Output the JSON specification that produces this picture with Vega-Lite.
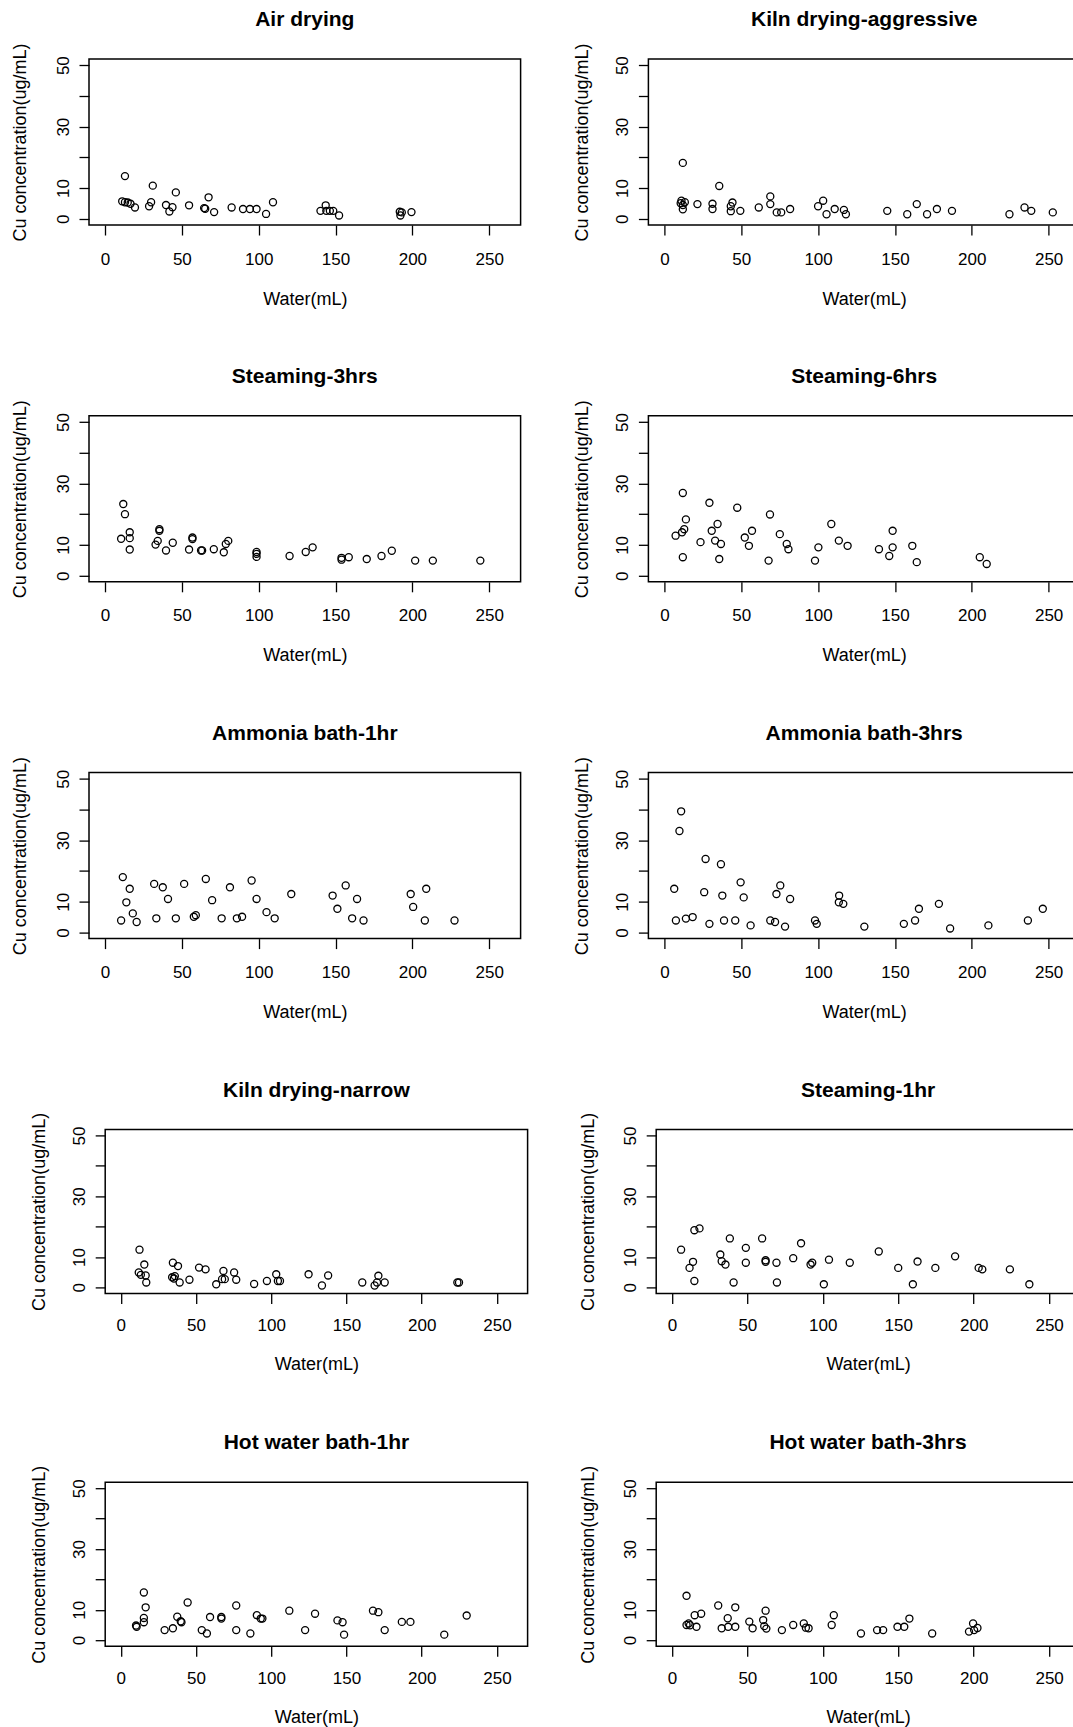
{
  "$schema": "https://vega.github.io/schema/vega-lite/v6.json",
  "padding": {"left": 10, "top": 8, "right": 0, "bottom": 0},
  "background": "white",
  "datasets": {
    "air": [{"water":13,"cu":13.9},{"water":11.2,"cu":5.7},{"water":13,"cu":5.4},{"water":14.8,"cu":5.3},{"water":16.6,"cu":4.9},{"water":19.5,"cu":3.7},{"water":28.7,"cu":4.1},{"water":30,"cu":5.4},{"water":31.1,"cu":10.8},{"water":39.7,"cu":4.5},{"water":41.9,"cu":2.4},{"water":43.9,"cu":3.8},{"water":46.1,"cu":8.6},{"water":54.7,"cu":4.4},{"water":64.5,"cu":3.5},{"water":65.2,"cu":3.3},{"water":67.4,"cu":7.0},{"water":71,"cu":2.2},{"water":82.4,"cu":3.7},{"water":89.8,"cu":3.2},{"water":94.3,"cu":3.2},{"water":98.6,"cu":3.2},{"water":104.8,"cu":1.6},{"water":109.3,"cu":5.4},{"water":140.2,"cu":2.6},{"water":143.6,"cu":4.4},{"water":144,"cu":2.6},{"water":146.3,"cu":2.6},{"water":148.5,"cu":2.6},{"water":152.3,"cu":1.1},{"water":191.8,"cu":2.3},{"water":192.2,"cu":1.1},{"water":193.1,"cu":2.1},{"water":199.4,"cu":2.2}],
    "kilnA": [{"water":12,"cu":18.2},{"water":11.1,"cu":5.9},{"water":10.6,"cu":5.1},{"water":12,"cu":4.5},{"water":13.3,"cu":5.4},{"water":12,"cu":3.1},{"water":21.5,"cu":4.8},{"water":31.3,"cu":4.9},{"water":31.3,"cu":3.2},{"water":35.7,"cu":10.7},{"water":43.2,"cu":4.1},{"water":44.3,"cu":5.3},{"water":43.2,"cu":2.5},{"water":49.4,"cu":2.6},{"water":61.4,"cu":3.7},{"water":68.9,"cu":7.3},{"water":68.9,"cu":4.8},{"water":73.1,"cu":2.1},{"water":76,"cu":2.1},{"water":81.8,"cu":3.2},{"water":100,"cu":4.1},{"water":103.3,"cu":5.9},{"water":105.5,"cu":1.5},{"water":110.8,"cu":3.2},{"water":116.8,"cu":2.9},{"water":118.1,"cu":1.5},{"water":145,"cu":2.6},{"water":158,"cu":1.5},{"water":164.2,"cu":4.8},{"water":170.9,"cu":1.5},{"water":177.3,"cu":3.2},{"water":187.1,"cu":2.6},{"water":224.5,"cu":1.5},{"water":234.3,"cu":3.7},{"water":238.7,"cu":2.6},{"water":252.7,"cu":2.1}],
    "st3": [{"water":11.9,"cu":23.3},{"water":13,"cu":20},{"water":10.5,"cu":12},{"water":16.1,"cu":14.1},{"water":16.1,"cu":12.2},{"water":16.1,"cu":8.5},{"water":32.9,"cu":10.1},{"water":34.3,"cu":11.3},{"water":35.4,"cu":15.1},{"water":35.4,"cu":14.6},{"water":39.7,"cu":8.2},{"water":44.1,"cu":10.7},{"water":54.7,"cu":8.5},{"water":56.9,"cu":12.4},{"water":56.9,"cu":11.9},{"water":62.5,"cu":8.2},{"water":63.2,"cu":8.2},{"water":70.8,"cu":8.6},{"water":77.3,"cu":7.6},{"water":78.6,"cu":10.3},{"water":80.2,"cu":11.3},{"water":98.6,"cu":7.7},{"water":98.6,"cu":7.1},{"water":98.6,"cu":6.1},{"water":120.1,"cu":6.4},{"water":130.6,"cu":7.7},{"water":135.1,"cu":9.2},{"water":153.9,"cu":5.8},{"water":153.9,"cu":5.2},{"water":158.6,"cu":6.0},{"water":170.3,"cu":5.4},{"water":179.9,"cu":6.4},{"water":186.6,"cu":8.1},{"water":201.8,"cu":4.9},{"water":213.3,"cu":4.9},{"water":244.2,"cu":4.9}],
    "st6": [{"water":12,"cu":26.9},{"water":29.3,"cu":23.7},{"water":47.4,"cu":22.1},{"water":68.7,"cu":19.9},{"water":14,"cu":18.3},{"water":34.6,"cu":16.8},{"water":108.6,"cu":16.8},{"water":12.9,"cu":15.1},{"water":11.5,"cu":14.1},{"water":30.8,"cu":14.6},{"water":57,"cu":14.6},{"water":148.5,"cu":14.6},{"water":7.3,"cu":13},{"water":75.1,"cu":13.5},{"water":52.3,"cu":12.4},{"water":33,"cu":11.4},{"water":23.5,"cu":10.9},{"water":36.8,"cu":10.3},{"water":113.5,"cu":11.4},{"water":79.6,"cu":10.3},{"water":55,"cu":9.7},{"water":119.2,"cu":9.7},{"water":161.3,"cu":9.7},{"water":100.2,"cu":9.2},{"water":80.7,"cu":8.6},{"water":139.6,"cu":8.6},{"water":148.5,"cu":9.2},{"water":146.3,"cu":6.4},{"water":12,"cu":6},{"water":35.7,"cu":5.4},{"water":67.8,"cu":4.9},{"water":98,"cu":4.9},{"water":164.2,"cu":4.4},{"water":205.2,"cu":6},{"water":209.7,"cu":3.8}],
    "am1": [{"water":11.6,"cu":18},{"water":16.1,"cu":14.2},{"water":13.9,"cu":9.8},{"water":18.1,"cu":6.2},{"water":10.5,"cu":3.9},{"water":20.6,"cu":3.4},{"water":32,"cu":15.8},{"water":37.6,"cu":14.7},{"water":41,"cu":10.9},{"water":33.4,"cu":4.6},{"water":46.1,"cu":4.6},{"water":51.5,"cu":15.8},{"water":57.8,"cu":5.1},{"water":59.1,"cu":5.6},{"water":65.6,"cu":17.4},{"water":69.7,"cu":10.5},{"water":75.9,"cu":4.6},{"water":81.3,"cu":14.7},{"water":85.8,"cu":4.6},{"water":89.2,"cu":5.1},{"water":95.4,"cu":16.9},{"water":98.6,"cu":10.9},{"water":105.1,"cu":6.6},{"water":110.4,"cu":4.6},{"water":121.2,"cu":12.5},{"water":148.1,"cu":12},{"water":151.2,"cu":7.7},{"water":156.6,"cu":15.3},{"water":164,"cu":10.9},{"water":160.8,"cu":4.6},{"water":168.2,"cu":3.9},{"water":198.9,"cu":12.5},{"water":200.5,"cu":8.3},{"water":209,"cu":14.2},{"water":208.1,"cu":3.9},{"water":227.4,"cu":3.9}],
    "am3": [{"water":10.9,"cu":39.4},{"water":9.8,"cu":33},{"water":26.8,"cu":23.9},{"water":36.8,"cu":22.2},{"water":6.4,"cu":14.2},{"water":25.9,"cu":13.1},{"water":37.7,"cu":12},{"water":49.6,"cu":16.3},{"water":51.6,"cu":11.4},{"water":75.4,"cu":15.3},{"water":72.9,"cu":12.5},{"water":81.8,"cu":10.9},{"water":113.7,"cu":12},{"water":113.5,"cu":9.8},{"water":116.4,"cu":9.3},{"water":7.5,"cu":3.9},{"water":14,"cu":4.5},{"water":18.4,"cu":5},{"water":29.3,"cu":2.8},{"water":38.8,"cu":3.9},{"water":46.1,"cu":3.9},{"water":56.1,"cu":2.3},{"water":68.9,"cu":3.9},{"water":72,"cu":3.4},{"water":78.5,"cu":1.9},{"water":98,"cu":3.9},{"water":99.1,"cu":2.8},{"water":130.1,"cu":1.9},{"water":155.8,"cu":2.8},{"water":163.1,"cu":3.9},{"water":165.6,"cu":7.7},{"water":178.6,"cu":9.3},{"water":185.9,"cu":1.3},{"water":210.8,"cu":2.3},{"water":236.5,"cu":3.9},{"water":246.2,"cu":7.7}],
    "kilnN": [{"water":12.4,"cu":12.4},{"water":11.9,"cu":4.9},{"water":13.3,"cu":4.1},{"water":15.6,"cu":7.5},{"water":16.5,"cu":3.9},{"water":16.9,"cu":1.6},{"water":34.6,"cu":8.1},{"water":38,"cu":7},{"water":34.1,"cu":3.3},{"water":35.3,"cu":2.9},{"water":35.9,"cu":3.7},{"water":39.1,"cu":1.6},{"water":45.6,"cu":2.5},{"water":52,"cu":6.5},{"water":56.3,"cu":5.9},{"water":63.4,"cu":1},{"water":68.2,"cu":5.4},{"water":67.3,"cu":2.7},{"water":69.1,"cu":2.7},{"water":75.3,"cu":4.9},{"water":76.7,"cu":2.5},{"water":88.6,"cu":1.1},{"water":97.1,"cu":2.1},{"water":103.3,"cu":4.3},{"water":104.4,"cu":2.1},{"water":105.8,"cu":2.1},{"water":124.8,"cu":4.3},{"water":133.7,"cu":0.6},{"water":137.8,"cu":3.9},{"water":160.5,"cu":1.6},{"water":168.7,"cu":0.6},{"water":170.3,"cu":1.6},{"water":171.2,"cu":3.8},{"water":175.4,"cu":1.6},{"water":223.7,"cu":1.6},{"water":224.8,"cu":1.6}],
    "st1": [{"water":6.1,"cu":12.4},{"water":14.9,"cu":18.8},{"water":18.3,"cu":19.4},{"water":14,"cu":8.4},{"water":11.7,"cu":6.4},{"water":14.9,"cu":2.1},{"water":32.1,"cu":10.8},{"water":33,"cu":8.6},{"water":35.5,"cu":7.5},{"water":38.4,"cu":16.1},{"water":40.9,"cu":1.6},{"water":49,"cu":13},{"water":49,"cu":8.1},{"water":59.8,"cu":16.1},{"water":62.1,"cu":8.9},{"water":62.1,"cu":8.4},{"water":69.3,"cu":8.1},{"water":69.6,"cu":1.6},{"water":80.4,"cu":9.6},{"water":85.6,"cu":14.5},{"water":91.9,"cu":7.5},{"water":93,"cu":8.1},{"water":100.7,"cu":1},{"water":104.1,"cu":9.1},{"water":117.9,"cu":8.1},{"water":137.1,"cu":11.8},{"water":150,"cu":6.4},{"water":159.7,"cu":1},{"water":162.8,"cu":8.5},{"water":174.6,"cu":6.4},{"water":187.7,"cu":10.2},{"water":203.3,"cu":6.4},{"water":205.7,"cu":5.9},{"water":224,"cu":5.9},{"water":236.9,"cu":1}],
    "hw1": [{"water":15.3,"cu":15.7},{"water":16.5,"cu":10.8},{"water":10.1,"cu":4.8},{"water":10.5,"cu":4.4},{"water":15.3,"cu":7.3},{"water":15.3,"cu":5.9},{"water":29.1,"cu":3.3},{"water":34.6,"cu":3.9},{"water":37.5,"cu":7.7},{"water":39.8,"cu":6.2},{"water":40.3,"cu":5.9},{"water":44.4,"cu":12.4},{"water":53.8,"cu":3.3},{"water":57.2,"cu":2.2},{"water":59.3,"cu":7.6},{"water":66.8,"cu":7.6},{"water":66.8,"cu":7.1},{"water":76.7,"cu":11.4},{"water":76.7,"cu":3.3},{"water":86.1,"cu":2.2},{"water":90.4,"cu":8.2},{"water":93,"cu":7.1},{"water":94.1,"cu":7.1},{"water":112,"cu":9.7},{"water":122.5,"cu":3.3},{"water":129.1,"cu":8.7},{"water":144,"cu":6.5},{"water":147.4,"cu":5.9},{"water":148.4,"cu":1.8},{"water":167.6,"cu":9.7},{"water":171.2,"cu":9.2},{"water":175.4,"cu":3.3},{"water":186.8,"cu":6},{"water":192.5,"cu":6},{"water":215,"cu":1.8},{"water":229.9,"cu":8.1}],
    "hw3": [{"water":9.7,"cu":14.6},{"water":9.7,"cu":5},{"water":11.1,"cu":5.5},{"water":12,"cu":4.9},{"water":15.1,"cu":8.2},{"water":16.3,"cu":4.4},{"water":19.4,"cu":8.7},{"water":30.7,"cu":11.4},{"water":33,"cu":3.9},{"water":37,"cu":7.2},{"water":37.3,"cu":4.4},{"water":42,"cu":10.8},{"water":42,"cu":4.4},{"water":51.3,"cu":6.1},{"water":53.5,"cu":3.9},{"water":60.5,"cu":6.6},{"water":62.1,"cu":9.7},{"water":61.2,"cu":4.6},{"water":62.6,"cu":3.8},{"water":72.9,"cu":3.3},{"water":80.4,"cu":5},{"water":87.4,"cu":5.5},{"water":88.8,"cu":4.1},{"water":90.6,"cu":3.9},{"water":105.9,"cu":5},{"water":107.3,"cu":8.2},{"water":125.3,"cu":2.2},{"water":136,"cu":3.3},{"water":140,"cu":3.3},{"water":149.5,"cu":4.4},{"water":154,"cu":4.4},{"water":157.4,"cu":7.1},{"water":172.5,"cu":2.2},{"water":196.9,"cu":2.8},{"water":199.6,"cu":5.5},{"water":200.3,"cu":3.3},{"water":202.5,"cu":4}]
  },
  "vconcat": [
    {"hconcat": [
      {"title": {"text": "Air drying", "offset": 13}, "width": 431.6, "height": 166, "data": {"name": "air"},
       "mark": {"type": "point", "shape": "circle", "filled": false, "color": "black", "strokeWidth": 1.3, "size": 50, "opacity": 1},
       "encoding": {
        "x": {"field": "water", "type": "quantitative", "scale": {"domain": [-10.4, 270.4], "nice": false, "zero": false}, "axis": {"title": "Water(mL)", "values": [0,50,100,150,200,250], "titleX": 215.8, "titleY": 74}},
        "y": {"field": "cu", "type": "quantitative", "scale": {"domain": [-2, 52], "nice": false, "zero": false}, "axis": {"title": "Cu concentration(ug/mL)", "values": [0,10,20,30,40,50], "labelExpr": "datum.value == 20 || datum.value == 40 ? '' : datum.label", "titleX": -69, "titleY": 83}}}},
      {"title": {"text": "Kiln drying-aggressive", "offset": 13}, "width": 431.6, "height": 166, "data": {"name": "kilnA"},
       "mark": {"type": "point", "shape": "circle", "filled": false, "color": "black", "strokeWidth": 1.3, "size": 50, "opacity": 1},
       "encoding": {
        "x": {"field": "water", "type": "quantitative", "scale": {"domain": [-10.4, 270.4], "nice": false, "zero": false}, "axis": {"title": "Water(mL)", "values": [0,50,100,150,200,250], "titleX": 215.8, "titleY": 74}},
        "y": {"field": "cu", "type": "quantitative", "scale": {"domain": [-2, 52], "nice": false, "zero": false}, "axis": {"title": "Cu concentration(ug/mL)", "values": [0,10,20,30,40,50], "labelExpr": "datum.value == 20 || datum.value == 40 ? '' : datum.label", "titleX": -66, "titleY": 83}}}}
    ], "spacing": 50.4},
    {"hconcat": [
      {"title": {"text": "Steaming-3hrs", "offset": 13}, "width": 431.6, "height": 166, "data": {"name": "st3"},
       "mark": {"type": "point", "shape": "circle", "filled": false, "color": "black", "strokeWidth": 1.3, "size": 50, "opacity": 1},
       "encoding": {
        "x": {"field": "water", "type": "quantitative", "scale": {"domain": [-10.4, 270.4], "nice": false, "zero": false}, "axis": {"title": "Water(mL)", "values": [0,50,100,150,200,250], "titleX": 215.8, "titleY": 74}},
        "y": {"field": "cu", "type": "quantitative", "scale": {"domain": [-2, 52], "nice": false, "zero": false}, "axis": {"title": "Cu concentration(ug/mL)", "values": [0,10,20,30,40,50], "labelExpr": "datum.value == 20 || datum.value == 40 ? '' : datum.label", "titleX": -69, "titleY": 83}}}},
      {"title": {"text": "Steaming-6hrs", "offset": 13}, "width": 431.6, "height": 166, "data": {"name": "st6"},
       "mark": {"type": "point", "shape": "circle", "filled": false, "color": "black", "strokeWidth": 1.3, "size": 50, "opacity": 1},
       "encoding": {
        "x": {"field": "water", "type": "quantitative", "scale": {"domain": [-10.4, 270.4], "nice": false, "zero": false}, "axis": {"title": "Water(mL)", "values": [0,50,100,150,200,250], "titleX": 215.8, "titleY": 74}},
        "y": {"field": "cu", "type": "quantitative", "scale": {"domain": [-2, 52], "nice": false, "zero": false}, "axis": {"title": "Cu concentration(ug/mL)", "values": [0,10,20,30,40,50], "labelExpr": "datum.value == 20 || datum.value == 40 ? '' : datum.label", "titleX": -66, "titleY": 83}}}}
    ], "spacing": 50.4},
    {"hconcat": [
      {"title": {"text": "Ammonia bath-1hr", "offset": 13}, "width": 431.6, "height": 166, "data": {"name": "am1"},
       "mark": {"type": "point", "shape": "circle", "filled": false, "color": "black", "strokeWidth": 1.3, "size": 50, "opacity": 1},
       "encoding": {
        "x": {"field": "water", "type": "quantitative", "scale": {"domain": [-10.4, 270.4], "nice": false, "zero": false}, "axis": {"title": "Water(mL)", "values": [0,50,100,150,200,250], "titleX": 215.8, "titleY": 74}},
        "y": {"field": "cu", "type": "quantitative", "scale": {"domain": [-2, 52], "nice": false, "zero": false}, "axis": {"title": "Cu concentration(ug/mL)", "values": [0,10,20,30,40,50], "labelExpr": "datum.value == 20 || datum.value == 40 ? '' : datum.label", "titleX": -69, "titleY": 83}}}},
      {"title": {"text": "Ammonia bath-3hrs", "offset": 13}, "width": 431.6, "height": 166, "data": {"name": "am3"},
       "mark": {"type": "point", "shape": "circle", "filled": false, "color": "black", "strokeWidth": 1.3, "size": 50, "opacity": 1},
       "encoding": {
        "x": {"field": "water", "type": "quantitative", "scale": {"domain": [-10.4, 270.4], "nice": false, "zero": false}, "axis": {"title": "Water(mL)", "values": [0,50,100,150,200,250], "titleX": 215.8, "titleY": 74}},
        "y": {"field": "cu", "type": "quantitative", "scale": {"domain": [-2, 52], "nice": false, "zero": false}, "axis": {"title": "Cu concentration(ug/mL)", "values": [0,10,20,30,40,50], "labelExpr": "datum.value == 20 || datum.value == 40 ? '' : datum.label", "titleX": -66, "titleY": 83}}}}
    ], "spacing": 50.4},
    {"concat": [
      {"width": 1, "height": 1, "data": {"values": []}, "mark": {"type": "point", "opacity": 0}, "encoding": {}, "view": {"stroke": null, "fill": "white"}},
      {"concat": [
        {"title": {"text": "Kiln drying-narrow", "offset": 11.7}, "width": 422.4, "height": 164, "data": {"name": "kilnN"},
         "mark": {"type": "point", "shape": "circle", "filled": false, "color": "black", "strokeWidth": 1.3, "size": 50, "opacity": 1},
         "encoding": {
          "x": {"field": "water", "type": "quantitative", "scale": {"domain": [-10.4, 270.4], "nice": false, "zero": false}, "axis": {"title": "Water(mL)", "values": [0,50,100,150,200,250], "labelPadding": 22, "titleX": 211.2, "titleY": 71.3}},
          "y": {"field": "cu", "type": "quantitative", "scale": {"domain": [-2, 52], "nice": false, "zero": false}, "axis": {"title": "Cu concentration(ug/mL)", "values": [0,10,20,30,40,50], "labelExpr": "datum.value == 20 || datum.value == 40 ? '' : datum.label", "titleX": -66, "titleY": 82}}}},
        {"title": {"text": "Steaming-1hr", "offset": 11.7}, "width": 423.7, "height": 164, "data": {"name": "st1"},
         "mark": {"type": "point", "shape": "circle", "filled": false, "color": "black", "strokeWidth": 1.3, "size": 50, "opacity": 1},
         "encoding": {
          "x": {"field": "water", "type": "quantitative", "scale": {"domain": [-10.4, 270.4], "nice": false, "zero": false}, "axis": {"title": "Water(mL)", "values": [0,50,100,150,200,250], "labelPadding": 22, "titleX": 211.85, "titleY": 71.3}},
          "y": {"field": "cu", "type": "quantitative", "scale": {"domain": [-2, 52], "nice": false, "zero": false}, "axis": {"title": "Cu concentration(ug/mL)", "values": [0,10,20,30,40,50], "labelExpr": "datum.value == 20 || datum.value == 40 ? '' : datum.label", "titleX": -68, "titleY": 82}}}}
      ], "columns": 2, "align": "none", "spacing": 49}
    ], "columns": 2, "align": "none", "spacing": -60.8},
    {"concat": [
      {"width": 1, "height": 1, "data": {"values": []}, "mark": {"type": "point", "opacity": 0}, "encoding": {}, "view": {"stroke": null, "fill": "white"}},
      {"concat": [
        {"title": {"text": "Hot water bath-1hr", "offset": 11.7}, "width": 422.4, "height": 164, "data": {"name": "hw1"},
         "mark": {"type": "point", "shape": "circle", "filled": false, "color": "black", "strokeWidth": 1.3, "size": 50, "opacity": 1},
         "encoding": {
          "x": {"field": "water", "type": "quantitative", "scale": {"domain": [-10.4, 270.4], "nice": false, "zero": false}, "axis": {"title": "Water(mL)", "values": [0,50,100,150,200,250], "labelPadding": 22, "titleX": 211.2, "titleY": 71.3}},
          "y": {"field": "cu", "type": "quantitative", "scale": {"domain": [-2, 52], "nice": false, "zero": false}, "axis": {"title": "Cu concentration(ug/mL)", "values": [0,10,20,30,40,50], "labelExpr": "datum.value == 20 || datum.value == 40 ? '' : datum.label", "titleX": -66, "titleY": 82}}}},
        {"title": {"text": "Hot water bath-3hrs", "offset": 11.7}, "width": 423.7, "height": 164, "data": {"name": "hw3"},
         "mark": {"type": "point", "shape": "circle", "filled": false, "color": "black", "strokeWidth": 1.3, "size": 50, "opacity": 1},
         "encoding": {
          "x": {"field": "water", "type": "quantitative", "scale": {"domain": [-10.4, 270.4], "nice": false, "zero": false}, "axis": {"title": "Water(mL)", "values": [0,50,100,150,200,250], "labelPadding": 22, "titleX": 211.85, "titleY": 71.3}},
          "y": {"field": "cu", "type": "quantitative", "scale": {"domain": [-2, 52], "nice": false, "zero": false}, "axis": {"title": "Cu concentration(ug/mL)", "values": [0,10,20,30,40,50], "labelExpr": "datum.value == 20 || datum.value == 40 ? '' : datum.label", "titleX": -68, "titleY": 82}}}}
      ], "columns": 2, "align": "none", "spacing": 49}
    ], "columns": 2, "align": "none", "spacing": -60.8}
  ],
  "spacing": 55.8,
  "config": {
    "font": "Liberation Sans",
    "view": {"stroke": "black", "strokeWidth": 1.5},
    "axis": {"grid": false, "domain": false, "ticks": true, "tickColor": "black", "tickWidth": 1.3, "tickSize": 10, "labelFont": "Liberation Sans", "labelFontSize": 17, "labelColor": "black", "labelOverlap": false, "labelFlush": false, "titleFont": "Liberation Sans", "titleFontSize": 18, "titleFontWeight": "normal", "titleColor": "black"},
    "axisX": {"labelBaseline": "middle", "labelPadding": 24, "titleBaseline": "middle", "titleAlign": "center", "titleAngle": 0},
    "axisY": {"labelAngle": 270, "labelAlign": "center", "labelBaseline": "middle", "labelPadding": 16, "titleAngle": 270, "titleBaseline": "middle", "titleAlign": "center"},
    "title": {"font": "Liberation Sans", "fontSize": 21, "fontWeight": "bold", "color": "black", "anchor": "middle", "frame": "group", "baseline": "middle"}
  }
}
